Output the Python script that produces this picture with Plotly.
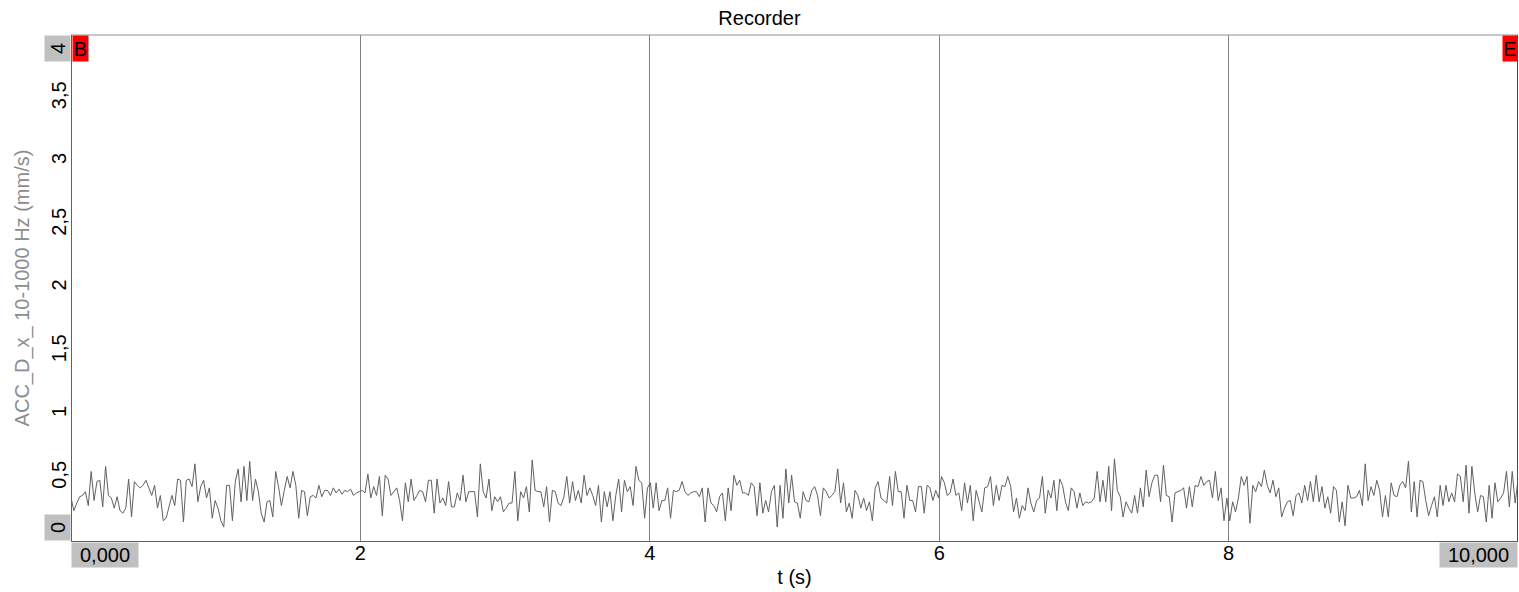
import numpy as np
import plotly.graph_objects as go

# ---- data (mm/s), ~0.02 s sample spacing ----
seg_0_2 = [0.34,0.24,0.30,0.35,0.36,0.39,0.28,0.55,0.32,0.47,0.48,0.27,0.59,0.36,0.34,0.26,0.35,0.24,0.22,0.26,
           0.49,0.19,0.47,0.44,0.42,0.44,0.48,0.42,0.36,0.44,0.26,0.36,0.16,0.18,0.27,0.36,0.28,0.49,0.48,0.15,
           0.48,0.49,0.43,0.61,0.31,0.43,0.48,0.34,0.42,0.18,0.32,0.26,0.16,0.11,0.44,0.44,0.16,0.47,0.57,0.31,
           0.59,0.32,0.63,0.32,0.49,0.39,0.22,0.15,0.31,0.32,0.19,0.55,0.43,0.28,0.40,0.51,0.42,0.55,0.44,0.18,
           0.40,0.39,0.20,0.35,0.36,0.34,0.44,0.35,0.40,0.40,0.36,0.42,0.38,0.41,0.37,0.40,0.39,0.41,0.36,0.38]
seg_2_4 = [0.39,0.40,0.38,0.53,0.34,0.43,0.36,0.51,0.20,0.52,0.49,0.36,0.39,0.42,0.32,0.16,0.46,0.31,0.49,0.32,
           0.36,0.40,0.39,0.31,0.48,0.48,0.22,0.49,0.30,0.34,0.28,0.47,0.27,0.27,0.38,0.32,0.52,0.31,0.39,0.39,
           0.39,0.19,0.61,0.39,0.34,0.49,0.24,0.35,0.31,0.35,0.23,0.26,0.30,0.30,0.55,0.16,0.39,0.34,0.43,0.23,
           0.64,0.40,0.39,0.39,0.27,0.43,0.15,0.40,0.39,0.30,0.28,0.35,0.51,0.30,0.47,0.32,0.40,0.30,0.52,0.36,
           0.42,0.36,0.28,0.44,0.15,0.39,0.27,0.39,0.16,0.36,0.49,0.23,0.48,0.39,0.43,0.28,0.59,0.48,0.46,0.18,
           0.42,0.46,0.26]
seg_4_6 = [0.46,0.24,0.32,0.32,0.42,0.18,0.40,0.39,0.40,0.47,0.39,0.36,0.38,0.39,0.39,0.35,0.42,0.15,0.42,0.30,
           0.28,0.23,0.35,0.38,0.16,0.42,0.24,0.52,0.44,0.48,0.38,0.38,0.36,0.46,0.43,0.20,0.46,0.22,0.32,0.23,
           0.39,0.44,0.11,0.44,0.18,0.57,0.30,0.52,0.31,0.30,0.18,0.39,0.32,0.31,0.40,0.43,0.36,0.20,0.42,0.39,
           0.34,0.36,0.39,0.57,0.30,0.46,0.23,0.30,0.18,0.40,0.36,0.26,0.34,0.24,0.31,0.16,0.42,0.47,0.34,0.32,
           0.30,0.51,0.28,0.55,0.39,0.39,0.18,0.44,0.32,0.32,0.23,0.43,0.43,0.22,0.44,0.42,0.32,0.40,0.34,0.51,
           0.46,0.36,0.38]
seg_6_8 = [0.49,0.36,0.38,0.24,0.46,0.30,0.44,0.16,0.40,0.32,0.23,0.42,0.43,0.51,0.28,0.44,0.32,0.44,0.43,0.51,
           0.43,0.23,0.34,0.18,0.28,0.24,0.42,0.30,0.23,0.32,0.34,0.51,0.22,0.40,0.34,0.48,0.24,0.49,0.44,0.31,
           0.24,0.42,0.39,0.26,0.38,0.28,0.31,0.30,0.31,0.34,0.55,0.31,0.48,0.31,0.59,0.24,0.65,0.40,0.35,0.19,
           0.31,0.26,0.22,0.36,0.22,0.42,0.27,0.56,0.35,0.46,0.52,0.52,0.31,0.60,0.36,0.35,0.15,0.38,0.39,0.40,
           0.42,0.26,0.43,0.27,0.44,0.43,0.51,0.44,0.47,0.48,0.34,0.55,0.32,0.42,0.16,0.34,0.16,0.31,0.23,0.34,
           0.51,0.44]
seg_8_10 = [0.51,0.14,0.44,0.39,0.47,0.43,0.56,0.44,0.38,0.48,0.35,0.42,0.19,0.26,0.31,0.32,0.20,0.36,0.38,0.30,
            0.44,0.32,0.47,0.31,0.52,0.31,0.43,0.26,0.35,0.22,0.43,0.40,0.15,0.31,0.12,0.44,0.34,0.34,0.35,0.40,
            0.28,0.61,0.32,0.43,0.36,0.48,0.40,0.19,0.36,0.19,0.46,0.36,0.35,0.44,0.47,0.42,0.63,0.23,0.47,0.19,
            0.48,0.47,0.32,0.20,0.28,0.35,0.19,0.44,0.28,0.44,0.31,0.38,0.31,0.53,0.51,0.31,0.60,0.22,0.59,0.38,
            0.23,0.36,0.35,0.15,0.44,0.18,0.46,0.31,0.34,0.38,0.55,0.27,0.55,0.30,0.48]

t_start, t_end = 0.0, 10.0
y_min, y_max = 0.0, 4.0
x_ticks = [2, 4, 6, 8]
y_ticks = [0.5, 1, 1.5, 2, 2.5, 3, 3.5]

values = seg_0_2 + seg_2_4 + seg_4_6 + seg_6_8 + seg_8_10
t = np.linspace(t_start, t_end, len(values))

FONT = "Liberation Sans, Arial, sans-serif"
FS = 20
GRAY_BOX = "#c0c0c0"

fig = go.Figure()
fig.add_trace(go.Scatter(x=t, y=values, mode="lines",
                         line=dict(color="#606060", width=1), showlegend=False,
                         hoverinfo="skip"))

fig.update_layout(
    width=1519, height=592, autosize=False,
    margin=dict(l=71, r=1, t=35, b=51, pad=0),
    paper_bgcolor="white", plot_bgcolor="white",
    separators=",.",
    font=dict(family=FONT, size=FS, color="black"),
    title=dict(text="Recorder", x=0.5, xanchor="center", xref="container",
               yref="container", y=1 - 18 / 592, yanchor="middle",
               font=dict(family=FONT, size=FS, color="black")),
    xaxis=dict(range=[t_start, t_end], tickvals=x_ticks, ticktext=[str(v) for v in x_ticks],
               showgrid=True, gridcolor="#808080", gridwidth=1,
               zeroline=False, showline=True, linecolor="#606060", linewidth=1,
               mirror=False, ticks="", ticklabelstandoff=-6,
               automargin=False,
               tickfont=dict(family=FONT, size=FS, color="black"),
               title=dict(text="t (s)", standoff=6, font=dict(family=FONT, size=FS, color="black"))),
    yaxis=dict(range=[y_min, y_max], tickvals=y_ticks,
               showgrid=False, zeroline=False, showline=False,
               ticks="", tickangle=-90, automargin=False,
               tickfont=dict(family=FONT, size=FS, color="black"),
               title=dict(text="ACC_D_x_ 10-1000 Hz (mm/s)", standoff=13,
                          font=dict(family=FONT, size=FS, color="#8c8c8c"))),
)

# top border
fig.add_shape(type="line", xref="paper", yref="paper", x0=0, x1=1, y0=1, y1=1,
              line=dict(color="#909090", width=1))
# begin / end marker lines
fig.add_shape(type="line", xref="x", yref="paper", x0=t_start, x1=t_start, y0=0, y1=1,
              line=dict(color="#c03838", width=2))
fig.add_shape(type="line", xref="x", yref="paper", x0=t_end, x1=t_end, y0=0, y1=1,
              line=dict(color="#ff0000", width=2))

# B / E labels
fig.add_annotation(x=t_start, y=y_max, xref="x", yref="y", text="B", showarrow=False,
                   xanchor="left", yanchor="top", bgcolor="#ff0000", xshift=1,
                   width=13, height=23, borderpad=1,
                   font=dict(family=FONT, size=FS, color="black"))
fig.add_annotation(x=t_end, y=y_max, xref="x", yref="y", text="E", showarrow=False,
                   xanchor="right", yanchor="top", bgcolor="#ff0000",
                   width=12, height=23, borderpad=1,
                   font=dict(family=FONT, size=FS, color="black"))

# range labels on x axis
fig.add_annotation(x=t_start, y=0, xref="x", yref="paper", text="0,000", showarrow=False,
                   xanchor="left", yanchor="top", bgcolor=GRAY_BOX, yshift=-1,
                   width=62, height=20, borderpad=2,
                   font=dict(family=FONT, size=FS, color="black"))
fig.add_annotation(x=t_end, y=0, xref="x", yref="paper", text="10,000", showarrow=False,
                   xanchor="right", yanchor="top", bgcolor=GRAY_BOX, yshift=-1,
                   width=73, height=20, borderpad=2,
                   font=dict(family=FONT, size=FS, color="black"))

# range labels on y axis
fig.add_annotation(x=0, y=y_max, xref="paper", yref="y", text="4", showarrow=False,
                   xanchor="right", yanchor="top", textangle=-90, bgcolor=GRAY_BOX,
                   width=21, height=21, borderpad=2,
                   font=dict(family=FONT, size=FS, color="black"))
fig.add_annotation(x=0, y=y_min, xref="paper", yref="y", text="0", showarrow=False,
                   xanchor="right", yanchor="bottom", textangle=-90, bgcolor=GRAY_BOX,
                   width=21, height=21, borderpad=2,
                   font=dict(family=FONT, size=FS, color="black"))

fig.write_html("out.html", config={"displayModeBar": False},
               post_script="document.body.style.margin='0';")
